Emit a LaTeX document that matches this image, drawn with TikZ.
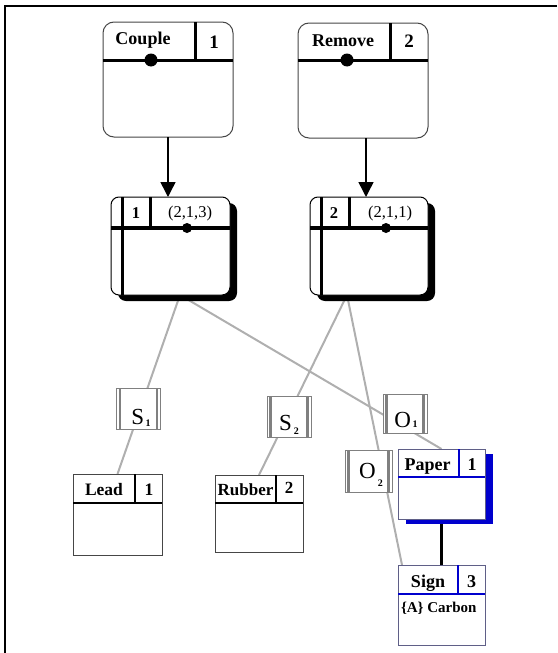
\documentclass[tikz,border=0pt]{standalone}
\usepackage{fontspec}
\setmainfont{Liberation Serif}
\usetikzlibrary{arrows.meta,shadows}
\pgfdeclarelayer{bg}
\pgfsetlayers{bg,main}
\definecolor{lnkgray}{RGB}{175,175,175}
\definecolor{bordgray}{RGB}{70,70,70}
\definecolor{hdrblue}{RGB}{0,0,205}
\definecolor{bluebord}{RGB}{95,95,135}
\begin{document}
\begin{tikzpicture}[x=1pt,y=-1pt,
  every node/.style={inner sep=0pt, outer sep=0pt},
  topbox/.style={draw=bordgray, line width=1pt, rounded corners=11pt, fill=white,
    minimum width=130pt, minimum height=115pt},
  midbox/.style={draw=black, line width=1pt, rounded corners=8pt, fill=white,
    minimum height=98pt,
    drop shadow={shadow xshift=7pt, shadow yshift=-6pt, fill=black, opacity=1}},
  cellbox/.style={draw=bordgray, line width=0.8pt, fill=white},
  bluebox/.style={draw=bluebord, line width=0.8pt, fill=white},
  lbl/.style={draw=gray, line width=0.8pt, fill=white, minimum width=44pt, minimum height=41pt,
    font=\fontsize{23}{23}\selectfont,
    path picture={
      \draw[line width=2.6pt] ([xshift=3.6pt]path picture bounding box.north west) -- ([xshift=3.6pt]path picture bounding box.south west);
      \draw[line width=2.6pt] ([xshift=-3.6pt]path picture bounding box.north east) -- ([xshift=-3.6pt]path picture bounding box.south east);}},
  hdr/.style={font=\fontsize{18}{18}\selectfont\bfseries, anchor=base},
  midtxt/.style={font=\fontsize{16.5}{16.5}\selectfont, anchor=base},
  thick3/.style={line width=3pt},
  link/.style={draw=lnkgray, line width=2pt},
  arr/.style={line width=1.5pt, -{Triangle[width=15pt,length=15pt]}}
]
\useasboundingbox (0,0) rectangle (557,653);
% frame
\draw[line width=2pt] (557,6) -- (5,6) -- (5,653);

% top boxes
\node[topbox] (couple) at (168,79.5) {};
\draw[thick3] (103,60) -- (233,60);
\draw[thick3] (195,22) -- (195,60);
\fill (151,60) circle[radius=6.5pt];
\node[hdr] (coupletxt) at (143,44) {Couple};
\node[hdr, font=\fontsize{19}{19}\selectfont\bfseries] (couplenum) at (214,48) {1};

\node[topbox] (remove) at (363,80.5) {};
\draw[thick3] (298,60) -- (428,60);
\draw[thick3] (390,23) -- (390,60);
\fill (347,60) circle[radius=6.5pt];
\node[hdr] (removetxt) at (343,46) {Remove};
\node[hdr, font=\fontsize{19}{19}\selectfont\bfseries] (removenum) at (409,47) {2};

% middle boxes
\node[midbox, minimum width=119pt] (m1) at (170.5,246) {};
\draw[line width=3pt] (122,197) -- (122,295);
\draw[line width=4pt] (111,228) -- (230,228);
\draw[thick3] (150,197) -- (150,228);
\fill (187,228) circle[radius=5pt];
\node[midtxt, font=\fontsize{16.5}{16.5}\selectfont\bfseries] (m1num) at (136,218) {1};
\node[midtxt] (m1txt) at (190,217) {(2,1,3)};

\node[midbox, minimum width=118pt] (m2) at (369,246) {};
\draw[line width=3pt] (321,197) -- (321,295);
\draw[line width=4pt] (310,228) -- (428,228);
\draw[thick3] (349,197) -- (349,228);
\fill (386,228) circle[radius=5pt];
\node[midtxt, font=\fontsize{16.5}{16.5}\selectfont\bfseries] (m2num) at (334,218) {2};
\node[midtxt] (m2txt) at (390,217) {(2,1,1)};

% arrows
\coordinate (ra) at ([xshift=3pt]remove.south);
\draw[arr] (couple.south) -- (couple.south |- m1.north);
\draw[arr] (ra) -- (ra |- m2.north);

% bottom cells
\node[cellbox, minimum width=89pt, minimum height=81pt] (lead) at (117.5,514.5) {};
\draw[line width=2.5pt] (73,503) -- (162,503);
\draw[line width=2.5pt] (135,474) -- (135,503);
\node[hdr, font=\fontsize{17.5}{17.5}\selectfont\bfseries] (leadtxt) at (104,495) {Lead};
\node[hdr, font=\fontsize{17.5}{17.5}\selectfont\bfseries] (leadnum) at (149,495) {1};

\node[cellbox, minimum width=88pt, minimum height=77pt] (rubber) at (259,513.5) {};
\draw[line width=2.5pt] (215,503) -- (303,503);
\draw[line width=2.5pt] (276,475) -- (276,503);
\node[hdr, font=\fontsize{17}{17}\selectfont\bfseries] (rubbertxt) at (245.5,495) {Rubber};
\node[hdr, font=\fontsize{17}{17}\selectfont\bfseries] (rubbernum) at (289,493) {2};

\node[bluebox, minimum width=87pt, minimum height=70pt,
  drop shadow={shadow xshift=8pt, shadow yshift=-5pt, fill=hdrblue, opacity=1}] (paper) at (441.5,484) {};
\draw[draw=hdrblue, line width=2.5pt] (398,477) -- (485,477);
\draw[draw=hdrblue, line width=1.5pt] (459,449) -- (459,477);
\node[hdr] (papertxt) at (427.5,470) {Paper};
\node[hdr] (papernum) at (472,470) {1};

\node[bluebox, minimum width=87pt, minimum height=80pt] (sign) at (441.5,605) {};
\draw[draw=hdrblue, line width=2.5pt] (398,594) -- (485,594);
\draw[draw=hdrblue, line width=2pt] (458,565) -- (458,594);
\node[hdr] (signtxt) at (428,587) {Sign};
\node[hdr] (signnum) at (471.5,587) {3};
\node[font=\fontsize{15}{15}\selectfont\bfseries, anchor=base west] (signattr) at (401,612) {\{A\} Carbon};

% labels
\node[lbl, text height=31pt, text depth=0pt] (s1) at (138.5,409) {\kern5pt S\kern1.5pt\raisebox{-2pt}{\fontsize{10}{10}\selectfont\bfseries 1}};
\node[lbl, text height=28pt, text depth=0pt] (s2) at (289,416.5) {S\kern2pt\raisebox{-4pt}{\fontsize{10}{10}\selectfont\bfseries 2}};
\node[lbl, text height=28pt, text depth=0pt, minimum height=39pt] (o1) at (405,413.5) {\kern2pt O\kern1.5pt\raisebox{0pt}{\fontsize{10}{10}\selectfont\bfseries 1}};
\node[lbl, text height=15pt, text depth=0pt, minimum width=47pt, minimum height=42pt] (o2) at (368.5,471) {\kern5pt O\kern2pt\raisebox{-8pt}{\fontsize{10}{10}\selectfont\bfseries 2}};

% connectors behind
\begin{pgfonlayer}{bg}
\coordinate (m1b) at ([xshift=9.5pt]m1.south);
\coordinate (m2b) at ([xshift=-22pt]m2.south);
\coordinate (signin) at ([xshift=4pt]sign.north west);
\draw[link] (m1b) -- (lead.north);
\draw[link] (m1b) -- (paper.north);
\draw[link] (m2b) -- (rubber.north);
\draw[link] (m2b) -- (signin);
\draw[line width=3.5pt] (paper.south) -- (sign.north);
\end{pgfonlayer}
\end{tikzpicture}
\end{document}
